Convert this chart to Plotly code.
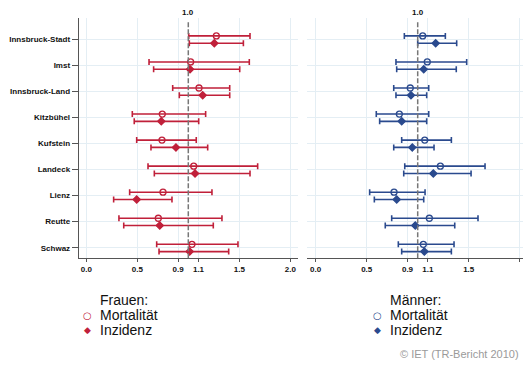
import plotly.graph_objects as go

# Bezirke, top to bottom
bezirke = ["Innsbruck-Stadt", "Imst", "Innsbruck-Land", "Kitzbühel", "Kufstein",
           "Landeck", "Lienz", "Reutte", "Schwaz"]

# Frauen: standardised ratios with 95% confidence limits
f_mort = [1.275, 1.023, 1.105, 0.745, 0.742, 1.053, 0.752, 0.706, 1.036]
f_mort_lo = [1.004, 0.615, 0.847, 0.451, 0.494, 0.605, 0.425, 0.320, 0.690]
f_mort_hi = [1.605, 1.598, 1.406, 1.170, 1.078, 1.680, 1.232, 1.330, 1.487]
f_inz = [1.255, 1.017, 1.141, 0.735, 0.879, 1.066, 0.494, 0.720, 1.013]
f_inz_lo = [1.010, 0.660, 0.912, 0.470, 0.634, 0.667, 0.268, 0.367, 0.713]
f_inz_hi = [1.540, 1.504, 1.406, 1.102, 1.190, 1.605, 0.840, 1.245, 1.396]

# Männer
m_mort = [1.049, 1.094, 0.927, 0.820, 1.069, 1.222, 0.768, 1.114, 1.055]
m_mort_lo = [0.869, 0.787, 0.765, 0.594, 0.843, 0.873, 0.529, 0.745, 0.810]
m_mort_hi = [1.271, 1.480, 1.108, 1.108, 1.330, 1.660, 1.072, 1.591, 1.356]
m_inz = [1.176, 1.059, 0.934, 0.843, 0.947, 1.153, 0.794, 0.976, 1.065]
m_inz_lo = [1.000, 0.794, 0.787, 0.627, 0.765, 0.863, 0.575, 0.682, 0.843]
m_inz_hi = [1.382, 1.378, 1.088, 1.088, 1.160, 1.523, 1.059, 1.363, 1.330]

tick_vals = [0.0, 0.5, 0.9, 1.1, 1.5, 2.0]
tick_text = ["0.0", "0.5", "0.9", "1.1", "1.5", "2.0"]

RED = "#c0203a"
BLUE = "#2a4a8e"
GRID = "#e4eef4"
AXIS = "#555555"
FONT = "Liberation Sans"

W, H = 523, 365
pos = list(range(1, len(bezirke) + 1))
pos_mort = [p - 0.13 for p in pos]
pos_inz = [p + 0.15 for p in pos]


def ci_trace(vals, lo, hi, ys, color, symbol, xa, ya):
    return go.Scatter(
        x=vals, y=ys, mode="markers", xaxis=xa, yaxis=ya, showlegend=False,
        marker=dict(symbol=symbol, size=6 if symbol == "circle-open" else 5.5,
                    color=color, line=dict(color=color, width=1.3)),
        error_x=dict(type="data", symmetric=False,
                     array=[h - v for v, h in zip(vals, hi)],
                     arrayminus=[v - l for v, l in zip(vals, lo)],
                     color=color, thickness=1.6, width=3),
    )


fig = go.Figure()
fig.add_trace(ci_trace(f_mort, f_mort_lo, f_mort_hi, pos_mort, RED, "circle-open", "x", "y"))
fig.add_trace(ci_trace(f_inz, f_inz_lo, f_inz_hi, pos_inz, RED, "diamond", "x", "y"))
fig.add_trace(ci_trace(m_mort, m_mort_lo, m_mort_hi, pos_mort, BLUE, "circle-open", "x2", "y2"))
fig.add_trace(ci_trace(m_inz, m_inz_lo, m_inz_hi, pos_inz, BLUE, "diamond", "x2", "y2"))

ydom = [1 - 258.3 / H, 1 - 18.3 / H]
yrange = [9.407, 0.194]
tickfont = dict(family=FONT, size=8, color="#111", weight="bold")

xcommon = dict(tickvals=tick_vals, ticktext=tick_text, showgrid=True, gridcolor=GRID,
               gridwidth=1, showline=True, linecolor=AXIS, linewidth=1, ticks="outside",
               ticklen=3, tickcolor=AXIS, zeroline=False, tickfont=tickfont)

fig.update_layout(
    width=W, height=H, margin=dict(l=0, r=0, t=0, b=0),
    paper_bgcolor="white", plot_bgcolor="white",
    xaxis=dict(domain=[78.7 / W, 298 / W], range=[-0.0745, 2.0755], anchor="y", **xcommon),
    xaxis2=dict(domain=[307 / W, 1], range=[-0.085, 2.032], anchor="y2", **xcommon),
    yaxis=dict(domain=ydom, range=yrange, anchor="x", tickvals=pos, ticktext=bezirke,
               showgrid=True, gridcolor=GRID, showline=True, linecolor=AXIS,
               ticks="outside", ticklen=6, tickcolor=AXIS, zeroline=False, tickfont=tickfont),
    yaxis2=dict(domain=ydom, range=yrange, anchor="x2", tickvals=pos, showticklabels=False,
                showgrid=True, gridcolor=GRID, showline=False, ticks="", zeroline=False),
)

# reference line at ratio 1.0 in both panels, labelled on top
for xa in ("x", "x2"):
    fig.add_shape(type="line", xref=xa, yref=f"{'y' if xa == 'x' else 'y2'} domain",
                  x0=1.0, x1=1.0, y0=0, y1=0.99,
                  line=dict(color="#777777", width=1.5, dash="5px,2px"))
    fig.add_annotation(x=1.0, xref=xa, y=1 - 12.5 / H, yref="paper", text="1.0",
                       showarrow=False, font=tickfont, xanchor="center", yanchor="middle")

# legend blocks
leg_font = dict(family=FONT, size=14, color="#111")
for x_sym, title, color in ((87, "Frauen:", RED), (377, "Männer:", BLUE)):
    x_txt = x_sym + 11
    fig.add_annotation(x=x_txt / W, y=1 - 300 / H, xref="paper", yref="paper",
                       text=title, showarrow=False, xanchor="left", yanchor="middle",
                       font=leg_font)
    fig.add_annotation(x=x_txt / W, y=1 - 315 / H, xref="paper", yref="paper",
                       text="Mortalität", showarrow=False, xanchor="left", yanchor="middle",
                       font=leg_font)
    fig.add_annotation(x=x_txt / W, y=1 - 329.5 / H, xref="paper", yref="paper",
                       text="Inzidenz", showarrow=False, xanchor="left", yanchor="middle",
                       font=leg_font)
    fig.add_annotation(x=x_sym / W, y=1 - 315 / H, xref="paper", yref="paper",
                       text="○", showarrow=False, xanchor="center", yanchor="middle",
                       font=dict(family="DejaVu Sans", size=10, color=color))
    fig.add_annotation(x=x_sym / W, y=1 - 329.5 / H, xref="paper", yref="paper",
                       text="◆", showarrow=False, xanchor="center", yanchor="middle",
                       font=dict(family="DejaVu Sans", size=9, color=color))

fig.add_annotation(x=521 / W, y=1 - 354 / H, xref="paper", yref="paper",
                   text="© IET (TR-Bericht 2010)", showarrow=False, xanchor="right",
                   yanchor="middle", font=dict(family=FONT, size=11, color="#9a9a9a"))

fig.write_html("out.html")
